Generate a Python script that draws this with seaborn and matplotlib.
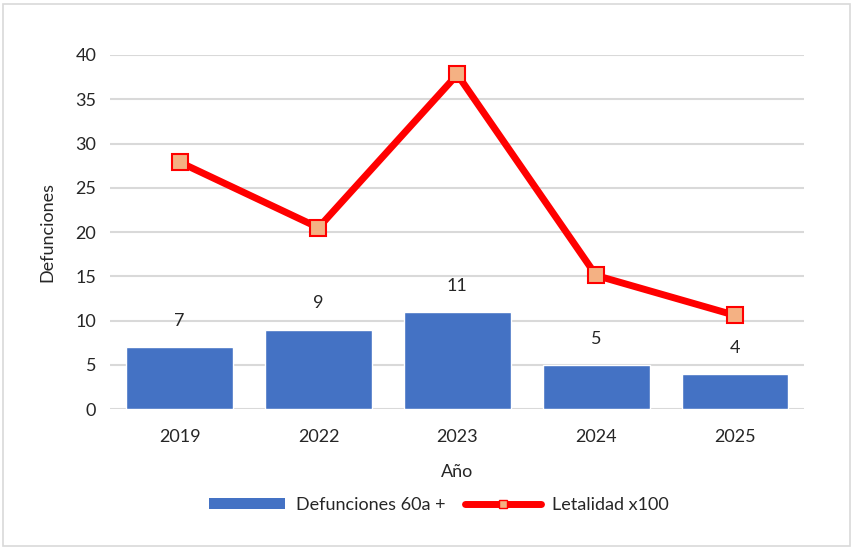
import pandas as pd
import seaborn as sns
import matplotlib.pyplot as plt
import numpy as np
from matplotlib.lines import Line2D
from matplotlib.patches import Patch, Rectangle

# Data
years = ["2019", "2022", "2023", "2024", "2025"]
deaths = [7, 9, 11, 5, 4]
lethality = [27.9, 20.5, 37.8, 15.1, 10.6]

df = pd.DataFrame({"anio": years, "defunciones": deaths, "letalidad": lethality})

sns.set_theme(style="white")
plt.rcParams['font.family'] = ['Lato', 'DejaVu Sans']

fig, ax = plt.subplots(figsize=(8.54, 5.5), dpi=100)
fig.subplots_adjust(left=0.129, right=0.942, top=0.9, bottom=0.256)

# Bars
sns.barplot(data=df, x="anio", y="defunciones", color="#4472C4", saturation=1,
            width=0.77, ax=ax, zorder=2)
ax.bar_label(ax.containers[0], padding=13, fontsize=13, color="#262626")

# Line
sns.pointplot(data=df, x="anio", y="letalidad", color="red", markers="s",
              linestyles="-", linewidth=5, markersize=11.5, ax=ax, zorder=3)
for ln in ax.lines:
    ln.set_markerfacecolor("#F4B183")
    ln.set_markeredgecolor("red")
    ln.set_markeredgewidth(1.5)
    ln.set_clip_on(False)

# faint white labels on the line
for i, v in enumerate(lethality):
    ax.text(i + 0.12, v + 2.2, f"{v:.1f}", color="white", fontsize=11,
            ha="left", va="bottom", zorder=1)

ax.set_ylim(0, 40)
ax.set_yticks(range(0, 41, 5))
ax.yaxis.grid(True, color="#D9D9D9", linewidth=1.5)
ax.set_axisbelow(True)
for s in ax.spines.values():
    s.set_visible(False)
ax.tick_params(axis="both", length=0, labelsize=13, colors="#262626", pad=10)
ax.tick_params(axis="x", pad=14)

ax.set_xlabel("Año", fontsize=13, color="#262626", labelpad=14)
ax.set_ylabel("Defunciones", fontsize=13, color="#262626", labelpad=14)

handles = [Patch(facecolor="#4472C4", edgecolor="none"),
           Line2D([0], [0], color="red", linewidth=5, marker="s", markersize=6,
                  markerfacecolor="#F4B183", markeredgecolor="red",
                  solid_capstyle="round")]
fig.legend(handles, ["Defunciones 60a +", "Letalidad x100"], loc="center",
           bbox_to_anchor=(0.514, 0.082), ncol=2, frameon=False, fontsize=13,
           handlelength=4.2, handleheight=0.6, columnspacing=1.1, handletextpad=0.6)

fig.patches.append(Rectangle((0.004, 0.008), 0.991, 0.985, transform=fig.transFigure,
                             fill=False, edgecolor="#D9D9D9", linewidth=1.2))

fig.savefig("out.png", dpi=100)
